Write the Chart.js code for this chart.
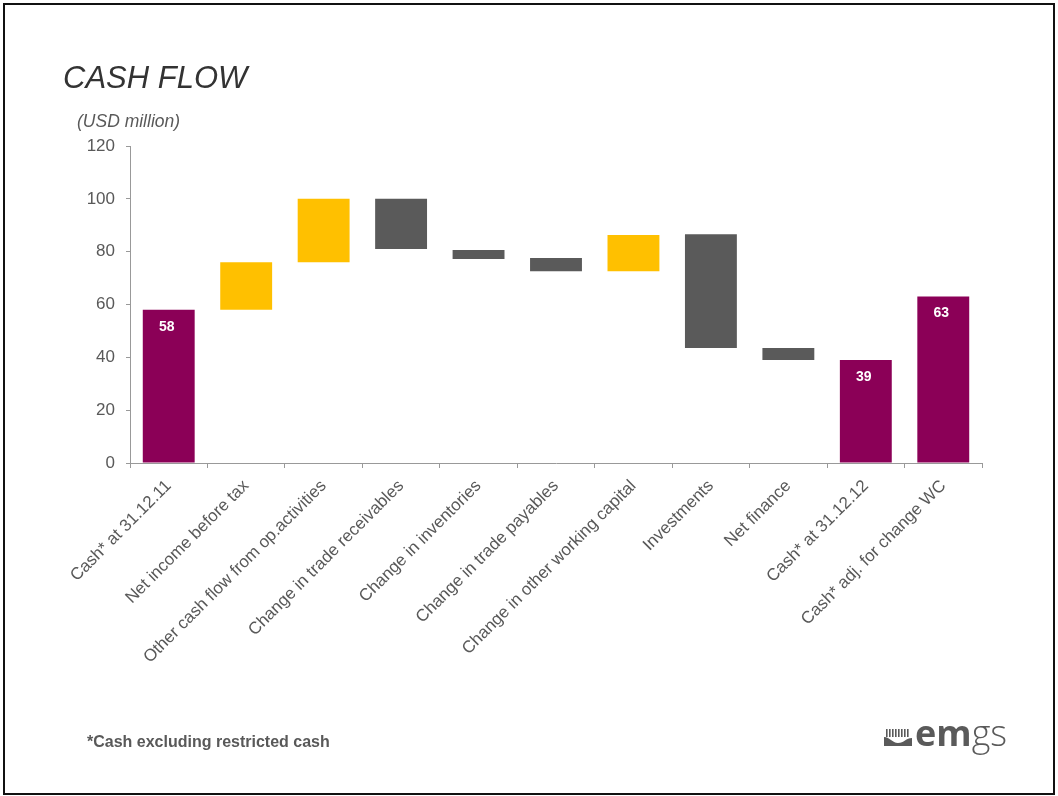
<!DOCTYPE html>
<html>
<head>
<meta charset="utf-8">
<title>Cash flow</title>
<script src="https://cdn.jsdelivr.net/npm/chart.js@4/dist/chart.umd.min.js"></script>
<style>
    body { margin: 0; background: #fff; font-family: Arial, "Liberation Sans", sans-serif; }
    #page { position: relative; width: 1058px; height: 796px; overflow: hidden; }
    #frame { position: absolute; left: 3px; top: 3px; width: 1048px; height: 788px; border: 2px solid #111; }
    #cashChart { position: absolute; left: 0; top: 0; }
    .title { position: absolute; left: 63px; top: 60px; font-size: 31px; font-style: italic; color: #333; }
    .unit { position: absolute; left: 77px; top: 111px; font-size: 17.5px; font-style: italic; color: #595959; }
    .note { position: absolute; left: 87px; top: 733px; font-size: 16px; font-weight: bold; color: #595959; }
    .logo { position: absolute; left: 884px; top: 713px; color: #5a5a5a; font-family: "Open Sans", sans-serif; font-size: 36px; line-height: 40px; white-space: nowrap; }
    .logo svg { vertical-align: baseline; margin-right: 3px; }
    .logo b { font-weight: 700; }
    .logo span { font-weight: 300; }
</style>
</head>
<body>
<div id="page">
    <canvas id="cashChart" width="1058" height="796"></canvas>
    <div id="frame"></div>
    <div class="title">CASH FLOW</div>
    <div class="unit">(USD million)</div>
    <div class="note">*Cash excluding restricted cash</div>
    <div class="logo"><svg width="28" height="17" viewBox="0 0 28 17">
        <g fill="#5a5a5a">
            <rect x="2" y="0" width="1.6" height="8"/><rect x="5" y="0" width="1.6" height="8"/>
            <rect x="8" y="0" width="1.6" height="8"/><rect x="11" y="0" width="1.6" height="8"/>
            <rect x="14" y="0" width="1.6" height="8"/><rect x="17" y="0" width="1.6" height="8"/>
            <rect x="20" y="0" width="1.6" height="8"/><rect x="23" y="0" width="1.6" height="8"/>
            <path d="M0 8 L0 17 L28 17 L28 9 C22 9 20 14 14 14 C8 14 6 8 0 8 Z"/>
        </g>
    </svg><b>em</b><span>gs</span></div>
</div>
<script>
// Kategorier og verdier (USD millioner)
const categories = [
    'Cash* at 31.12.11',
    'Net income before tax',
    'Other cash flow from op.activities',
    'Change in trade receivables',
    'Change in inventories',
    'Change in trade payables',
    'Change in other working capital',
    'Investments',
    'Net finance',
    'Cash* at 31.12.12',
    'Cash* adj. for change WC'
];
const barStart = [0, 58, 76, 81, 77.2, 72.6, 72.6, 43.5, 39, 0, 0];
const barEnd = [58, 76, 100, 100, 80.6, 77.6, 86.3, 86.6, 43.5, 39, 63];
const barKind = ['total', 'up', 'up', 'down', 'down', 'down', 'up', 'down', 'down', 'total', 'total'];
const yTicks = [0, 20, 40, 60, 80, 100, 120];

const kindColors = { total: '#8B0057', up: '#FFC000', down: '#5A5A5A' };

// Hvite verdier i toppen av kassebeholdnings-søylene
const totalLabels = {
    id: 'totalLabels',
    afterDatasetsDraw(chart) {
        const ctx = chart.ctx;
        const meta = chart.getDatasetMeta(0);
        ctx.save();
        ctx.fillStyle = '#fff';
        ctx.font = 'bold 14px Arial';
        ctx.textAlign = 'center';
        ctx.textBaseline = 'middle';
        meta.data.forEach(function(bar, i) {
            if (barKind[i] !== 'total') return;
            ctx.fillText(Math.round(barEnd[i]), bar.x - 2, bar.y + 17);
        });
        ctx.restore();
    }
};

const ctx = document.getElementById('cashChart').getContext('2d');
new Chart(ctx, {
    type: 'bar',
    data: {
        labels: categories,
        datasets: [{
            data: categories.map(function(_, i) { return [barStart[i], barEnd[i]]; }),
            backgroundColor: barKind.map(function(k) { return kindColors[k]; }),
            borderWidth: 0,
            categoryPercentage: 1,
            barPercentage: 0.67
        }]
    },
    options: {
        responsive: false,
        animation: false,
        devicePixelRatio: 1,
        layout: { padding: { left: 0, top: 146, right: 76, bottom: 0 } },
        plugins: {
            legend: { display: false },
            tooltip: { enabled: false }
        },
        scales: {
            x: {
                offset: true,
                grid: { offset: true, drawOnChartArea: false, drawTicks: true, tickLength: 5, color: '#999' },
                border: { display: true, color: '#999', width: 1 },
                ticks: {
                    autoSkip: false,
                    maxRotation: 45,
                    minRotation: 45,
                    padding: 8,
                    color: '#595959',
                    font: { family: 'Arial', size: 17 }
                },
                afterFit: function(scale) { scale.height = 333; }
            },
            y: {
                min: 0,
                max: 120,
                afterBuildTicks: function(scale) {
                    scale.ticks = yTicks.map(function(v) { return { value: v }; });
                },
                grid: { drawOnChartArea: false, drawTicks: true, tickLength: 4, color: '#999' },
                border: { display: true, color: '#999', width: 1 },
                ticks: {
                    padding: 11,
                    color: '#595959',
                    font: { family: 'Arial', size: 17 }
                },
                afterFit: function(scale) { scale.width = 130; }
            }
        }
    },
    plugins: [totalLabels]
});
</script>
</body>
</html>
